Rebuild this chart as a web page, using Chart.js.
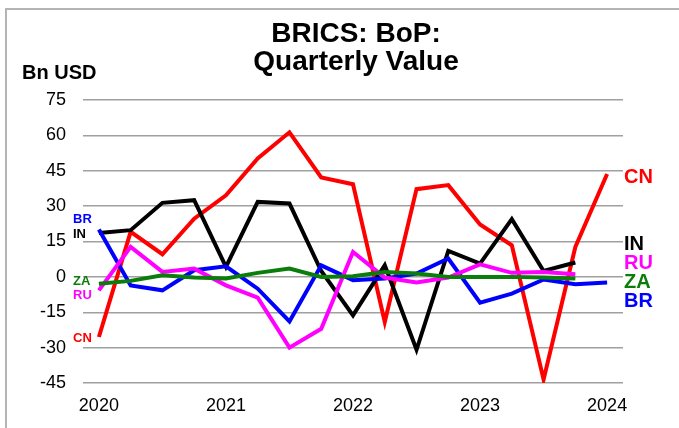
<!DOCTYPE html>
<html>
<head>
<meta charset="utf-8">
<script src="https://cdn.jsdelivr.net/npm/chart.js@4.4.1/dist/chart.umd.min.js"></script>
<style>
  html, body { margin: 0; padding: 0; background: #fff; overflow: hidden; }
  #wrap { position: relative; width: 679px; height: 428px; }
  #frame { position: absolute; left: 5px; top: 8px; width: 720px; height: 460px;
           border: 2px solid #b4b4b4; box-sizing: border-box; }
  canvas { position: absolute; left: 0; top: 0; }
</style>
</head>
<body>
<div id="wrap">
  <div id="frame"></div>
  <canvas id="grafico" width="679" height="428"></canvas>
</div>
<script>
/* =========================================================
   DADOS (Bn USD, trimestral)
========================================================= */
const trimestres = [
  '2020Q1','2020Q2','2020Q3','2020Q4',
  '2021Q1','2021Q2','2021Q3','2021Q4',
  '2022Q1','2022Q2','2022Q3','2022Q4',
  '2023Q1','2023Q2','2023Q3','2023Q4',
  '2024Q1'
];

const valoresCN = [-25.5, 19.1, 9.6, 24.7, 34.6, 50.2, 61.3, 42.2, 39.3, -19.1, 37.2, 38.9, 22.2, 13.4, -43.5, 12.7, 43.6];
const valoresIN = [18.6, 19.8, 31.4, 32.5, 4.2, 31.8, 31.1, 2.5, -16.3, 4.9, -30.9, 11.0, 5.6, 24.5, 2.5, 6.1, null];
const valoresBR = [20.1, -3.6, -5.7, 2.8, 4.5, -5.0, -18.9, 4.9, -1.4, -0.7, 1.4, 7.8, -10.9, -7.1, -1.1, -3.1, -2.4];
const valoresRU = [-5.7, 12.7, 2.1, 3.5, -3.6, -8.8, -30.0, -22.0, 10.6, -0.3, -2.4, -0.3, 5.3, 1.7, 2.1, 1.1, null];
const valoresZA = [-2.9, -1.7, 0.7, -0.3, -0.7, 1.7, 3.5, 0.0, 0.3, 2.1, 1.4, 0.0, 0.0, 0.0, -0.3, -0.7, null];

const ticksY = [-45, -30, -15, 0, 15, 30, 45, 60, 75];

// rótulos das séries (texto, cor, valor no eixo Y onde fica)
const rotulosEsq = [
  { t: 'BR', cor: '#0000ff', y: 24.2 },
  { t: 'IN', cor: '#000000', y: 17.9 },
  { t: 'ZA', cor: '#0a7d0a', y: -1.9 },
  { t: 'RU', cor: '#ff00ff', y: -7.9 },
  { t: 'CN', cor: '#ff0000', y: -26.1 }
];
const rotulosDir = [
  { t: 'CN', cor: '#ff0000', y: 42.3 },
  { t: 'IN', cor: '#000000', y: 13.7 },
  { t: 'RU', cor: '#ff00ff', y: 5.8 },
  { t: 'ZA', cor: '#0a7d0a', y: -2.3 },
  { t: 'BR', cor: '#0000ff', y: -10.4 }
];

const FONTE = "'Liberation Sans', Arial, sans-serif";

/* =========================================================
   TEXTOS (título, unidade, rótulos)
========================================================= */
const textos = {
  id: 'textos',
  afterDraw(chart) {
    const ctx = chart.ctx;
    const y = chart.scales.y;
    ctx.save();
    ctx.textBaseline = 'middle';
    ctx.fillStyle = '#000';
    ctx.textAlign = 'center';
    ctx.font = 'bold 28px ' + FONTE;
    ctx.fillText('BRICS: BoP:', 356, 34);
    ctx.fillText('Quarterly Value', 356, 62);

    ctx.textAlign = 'left';
    ctx.font = 'bold 20px ' + FONTE;
    ctx.fillText('Bn USD', 22, 73);

    ctx.font = 'bold 13px ' + FONTE;
    rotulosEsq.forEach(r => {
      ctx.fillStyle = r.cor;
      ctx.fillText(r.t, 73, y.getPixelForValue(r.y));
    });

    ctx.font = 'bold 20px ' + FONTE;
    rotulosDir.forEach(r => {
      ctx.fillStyle = r.cor;
      ctx.fillText(r.t, 624, y.getPixelForValue(r.y));
    });
    ctx.restore();
  }
};

function serie(label, data, cor, ordem) {
  return {
    label, data,
    borderColor: cor,
    backgroundColor: cor,
    borderWidth: 4,
    pointRadius: 0,
    tension: 0,
    spanGaps: false,
    order: ordem
  };
}

new Chart(document.getElementById('grafico'), {
  type: 'line',
  data: {
    labels: trimestres,
    datasets: [
      serie('CN', valoresCN, '#ff0000', 5),
      serie('IN', valoresIN, '#000000', 4),
      serie('BR', valoresBR, '#0000ff', 3),
      serie('RU', valoresRU, '#ff00ff', 2),
      serie('ZA', valoresZA, '#0a7d0a', 1)
    ]
  },
  options: {
    responsive: false,
    animation: false,
    layout: { padding: { top: 100, right: 56, left: 0, bottom: 0 } },
    plugins: {
      legend: { display: false },
      tooltip: { enabled: false }
    },
    scales: {
      x: {
        offset: true,
        grid: { display: false, drawTicks: false },
        border: { display: false },
        afterFit: s => { s.height = 45; },
        ticks: {
          autoSkip: false,
          maxRotation: 0,
          padding: 12,
          color: '#000',
          font: { family: FONTE, size: 18 },
          callback: (v, i) => trimestres[i].endsWith('Q1') ? trimestres[i].slice(0, 4) : ''
        }
      },
      y: {
        min: -45,
        max: 75,
        afterFit: s => { s.width = 83; },
        afterBuildTicks: s => { s.ticks = ticksY.map(v => ({ value: v })); },
        grid: { color: '#a0a0a0', lineWidth: 1.5, drawTicks: false },
        border: { display: false },
        ticks: {
          padding: 17,
          color: '#000',
          font: { family: FONTE, size: 18 }
        }
      }
    }
  },
  plugins: [textos]
});
</script>
</body>
</html>
